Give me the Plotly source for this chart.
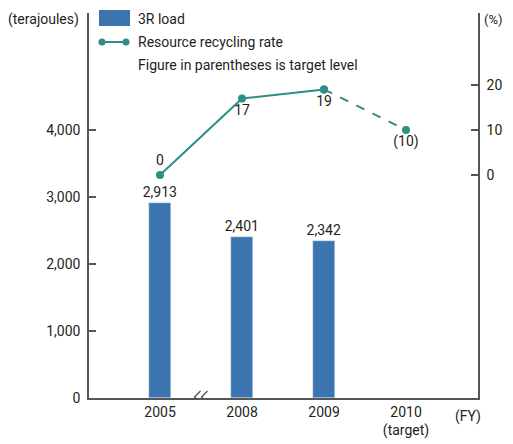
import plotly.graph_objects as go

years = ["2005", "2008", "2009", "2010"]
tick_labels = ["2005", "2008", "2009", "2010<br>(target)"]
load_tj = [2913, 2401, 2342]
load_labels = ["2,913", "2,401", "2,342"]
rate_actual = [0, 17, 19]
rate_actual_labels = ["0", "17", "19"]
rate_target = [19, 10]
rate_target_labels = ["", "(10)"]

FONT = "Roboto, sans-serif"
BAR_C = "#3b74ae"
LINE_C = "#2b8f86"
AX_C = "#555555"
TXT = "#231f20"

# page body has an 8px margin: figure origin is at (8, 8)
OFF = 8
L, R, T, B = 89 - OFF, 35, 13 - OFF, 46
W, H = 513 - OFF, 444 - OFF
PW = W - L - R
PH = H - T - B

fig = go.Figure()
fig.add_trace(go.Bar(
    x=years[:3], y=load_tj, width=0.28, marker_color=BAR_C,
    text=load_labels, textposition="outside", cliponaxis=False,
    constraintext="none",
    textfont=dict(size=14, color=TXT, family=FONT), showlegend=False,
))
fig.add_trace(go.Scatter(
    x=years[:3], y=rate_actual, yaxis="y2", mode="lines+markers+text",
    line=dict(color=LINE_C, width=2), marker=dict(size=8, color=LINE_C),
    text=rate_actual_labels, textposition=["top center", "bottom center", "bottom center"],
    textfont=dict(size=14, color=TXT, family=FONT), showlegend=False, cliponaxis=False,
))
fig.add_trace(go.Scatter(
    x=years[2:], y=rate_target, yaxis="y2", mode="lines+markers+text",
    line=dict(color=LINE_C, width=2, dash="dash"), marker=dict(size=8, color=LINE_C),
    text=rate_target_labels, textposition="bottom center",
    textfont=dict(size=14, color=TXT, family=FONT), showlegend=False, cliponaxis=False,
))

fig.update_layout(
    width=W, height=H,
    margin=dict(l=L, r=R, t=T, b=B, autoexpand=False),
    paper_bgcolor="white", plot_bgcolor="white",
    font=dict(family=FONT, size=14, color=TXT),
    bargap=0,
    xaxis=dict(
        type="category", categoryorder="array", categoryarray=years,
        tickvals=years, ticktext=tick_labels,
        range=[-0.866, 3.878], showline=True, linecolor=AX_C, linewidth=1.5,
        ticks="", showgrid=False, zeroline=False,
    ),
    yaxis=dict(
        range=[0, 5754], tickvals=[0, 1000, 2000, 3000, 4000],
        ticktext=["0", "1,000", "2,000", "3,000", "4,000"],
        showline=True, linecolor=AX_C, linewidth=1.5,
        ticks="inside", ticklen=7, tickcolor=AX_C, tickwidth=1.5,
        showgrid=False, zeroline=False, ticklabelstandoff=4,
    ),
    yaxis2=dict(
        overlaying="y", side="right", range=[-49.6, 36],
        tickvals=[0, 10, 20], ticktext=["0", "10", "20"],
        showline=True, linecolor=AX_C, linewidth=1.5,
        ticks="inside", ticklen=7, tickcolor=AX_C, tickwidth=1.5,
        showgrid=False, zeroline=False, ticklabelstandoff=4,
    ),
)

def px_x(x):
    return (x - 89) / PW

def px_y(y):
    return 1 - (y - 13) / PH

# manual legend
fig.add_shape(type="rect", xref="paper", yref="paper",
              x0=px_x(99), x1=px_x(130), y0=px_y(26), y1=px_y(10),
              fillcolor=BAR_C, line_width=0)
fig.add_shape(type="line", xref="paper", yref="paper",
              x0=px_x(102), x1=px_x(126), y0=px_y(42), y1=px_y(42),
              line=dict(color=LINE_C, width=2))
for p in (102, 126):
    fig.add_shape(type="circle", xref="paper", yref="paper",
                  x0=px_x(p - 3.5), x1=px_x(p + 3.5),
                  y0=px_y(42 + 3.5), y1=px_y(42 - 3.5),
                  fillcolor=LINE_C, line_width=0)

def ann(text, x_px, y_px, anchor="left", size=14):
    fig.add_annotation(text=text, xref="paper", yref="paper",
                       x=px_x(x_px), y=px_y(y_px),
                       xanchor=anchor, yanchor="middle", showarrow=False,
                       font=dict(family=FONT, size=size, color=TXT))

ann("3R load", 136, 19)
ann("Resource recycling rate", 136, 42)
ann("Figure in parentheses is target level", 136, 65)
ann("(terajoules)", 43, 19, "center")
ann("(%)", 505, 19, "right", 13)
ann("(FY)", 468, 416, "center")

# axis break mark
fig.add_shape(type="rect", xref="x", yref="y",
              xsizemode="pixel", ysizemode="pixel", xanchor=0.5, yanchor=0,
              x0=-5, x1=5, y0=-2, y1=2, fillcolor="white", line_width=0)
for dx in (-3.5, 3.5):
    fig.add_shape(type="path", xref="x", yref="y",
                  xsizemode="pixel", ysizemode="pixel", xanchor=0.5, yanchor=0,
                  path=f"M {dx+3},7 L {dx-3},1 L {dx+2},-3 L {dx-1},-6",
                  line=dict(color=AX_C, width=1.3))

fig.write_html("out.html")
